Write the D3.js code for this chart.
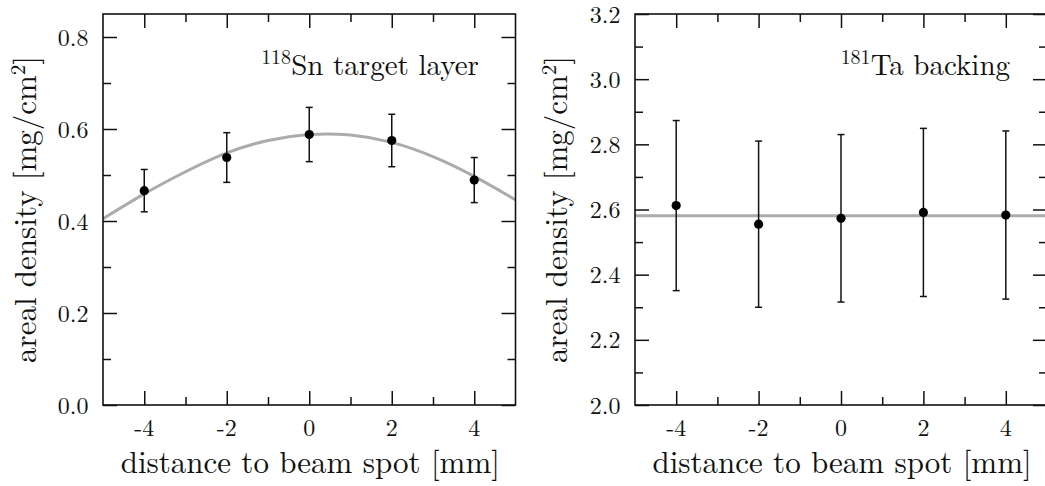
<!DOCTYPE html>
<html><head><meta charset="utf-8">
<script src="https://cdn.jsdelivr.net/npm/d3@7"></script>
<style>
html,body{margin:0;padding:0;background:#fff;}
svg{display:block;}
</style></head>
<body>
<svg id="c" width="1045" height="486"></svg>
<script>
// ---------- data ----------
const snX = [-4, -2, 0, 2, 4];
const snY = [0.466, 0.538, 0.588, 0.575, 0.489];
const snErr = [0.046, 0.054, 0.059, 0.057, 0.049];
// fitted curve
const snFitX = [-5, -4, -3, -2, -1, 0, 1, 2, 3, 4, 5];
const snFitY = [0.405, 0.459, 0.507, 0.548, 0.575, 0.588, 0.587, 0.571, 0.540, 0.497, 0.446];

const taX = [-4, -2, 0, 2, 4];
const taY = [2.612, 2.555, 2.573, 2.591, 2.583];
const taErr = [0.261, 0.255, 0.257, 0.258, 0.258];
const taFitX = [-5, 5];
const taFitY = [2.581, 2.581];

const xTicks = [-4, -2, 0, 2, 4];
const xTickLabels = ["-4", "-2", "0", "2", "4"];
const xMinor = [-3, -1, 1, 3];
const snYTicks = [0.0, 0.2, 0.4, 0.6, 0.8];
const snYMinor = [0.1, 0.3, 0.5, 0.7];
const taYTicks = [2.0, 2.2, 2.4, 2.6, 2.8, 3.0, 3.2];
const taYMinor = [2.1, 2.3, 2.5, 2.7, 2.9, 3.1];

const FONT = "'Latin Modern Roman', 'Liberation Serif', serif";
const svg = d3.select("#c").attr("font-family", FONT);

function panel(o) {
  const g = svg.append("g");
  const x = d3.scaleLinear().domain([-5, 5]).range([o.left, o.right]);
  const y = d3.scaleLinear().domain(o.ydom).range([405, 14]);
  const H = 405 - 14, W = o.right - o.left;
  const MAJ = 14, MIN = 8;

  const line = d3.line().x((d) => x(d[0])).y((d) => y(d[1])).curve(d3.curveNatural);
  const clipId = "clip" + o.id;
  g.append("clipPath").attr("id", clipId).append("rect")
    .attr("x", o.left).attr("y", 14).attr("width", W).attr("height", H);
  g.append("path").datum(o.fitX.map((v, i) => [v, o.fitY[i]]))
    .attr("d", line).attr("fill", "none").attr("stroke", "#ababab")
    .attr("stroke-width", 3).attr("clip-path", `url(#${clipId})`);

  const cap = 3.5;
  const eb = g.append("g").attr("stroke", "#111").attr("stroke-width", 1.5);
  o.px.forEach((v, i) => {
    const cx = x(v), y1 = y(o.py[i] + o.pe[i]), y0 = y(o.py[i] - o.pe[i]);
    eb.append("line").attr("x1", cx).attr("x2", cx).attr("y1", y1).attr("y2", y0);
    eb.append("line").attr("x1", cx - cap).attr("x2", cx + cap).attr("y1", y1).attr("y2", y1);
    eb.append("line").attr("x1", cx - cap).attr("x2", cx + cap).attr("y1", y0).attr("y2", y0);
  });
  g.selectAll("circle.pt").data(o.px).join("circle")
    .attr("cx", (d) => x(d)).attr("cy", (d, i) => y(o.py[i])).attr("r", 4.6).attr("fill", "#000");

  const mk = (axisFn, scale, vals, size, tr) => {
    const a = g.append("g").attr("transform", tr)
      .call(axisFn(scale).tickValues(vals).tickSize(size).tickFormat(""));
    a.select(".domain").remove();
    a.selectAll("line").attr("stroke", "#111").attr("stroke-width", 1.5);
  };
  mk(d3.axisBottom, x, xTicks, -MAJ, `translate(0,405)`);
  mk(d3.axisBottom, x, xMinor, -MIN, `translate(0,405)`);
  mk(d3.axisTop, x, xTicks, -MAJ, `translate(0,14)`);
  mk(d3.axisTop, x, xMinor, -MIN, `translate(0,14)`);
  mk(d3.axisLeft, y, o.yt, -MAJ, `translate(${o.left},0)`);
  mk(d3.axisLeft, y, o.ym, -MIN, `translate(${o.left},0)`);
  mk(d3.axisRight, y, o.yt, -MAJ, `translate(${o.right},0)`);
  mk(d3.axisRight, y, o.ym, -MIN, `translate(${o.right},0)`);

  g.append("rect").attr("x", o.left).attr("y", 14).attr("width", W).attr("height", H)
    .attr("fill", "none").attr("stroke", "#111").attr("stroke-width", 1.6);

  const T = (sel) => sel.attr("font-family", FONT).attr("fill", "#111");
  T(g.selectAll("text.xt").data(xTicks).join("text").attr("class", "xt")
    .attr("x", (d) => x(d)).attr("y", 436).attr("text-anchor", "middle")
    .attr("font-size", 24).text((d, i) => xTickLabels[i]));
  T(g.selectAll("text.yt").data(o.yt).join("text").attr("class", "yt")
    .attr("x", o.left - 14.5).attr("y", (d) => y(d) + 8.5).attr("text-anchor", "end")
    .attr("font-size", 24).text((d) => d.toFixed(1)));

  T(g.append("text").attr("x", (o.left + o.right) / 2 + 1).attr("y", 473)
    .attr("text-anchor", "middle").attr("font-size", 31)
    .text("distance to beam spot [mm]"));
  const yl = T(g.append("text")
    .attr("transform", `translate(${o.ylx},${(57 + 362) / 2}) rotate(-90)`)
    .attr("text-anchor", "middle").attr("font-size", 31));
  yl.append("tspan").text("areal density [mg/cm");
  yl.append("tspan").attr("dy", -11).attr("font-size", 21).text("2");
  yl.append("tspan").attr("dy", 11).text("]");

  const an = T(g.append("text").attr("x", o.annX).attr("y", 75)
    .attr("text-anchor", "end").attr("font-size", 29));
  an.append("tspan").attr("dy", -11).attr("font-size", 20).text(o.sup);
  an.append("tspan").attr("dy", 11).text(o.ann);
}

panel({id: 1, left: 103, right: 515.5, ydom: [0, 0.85], yt: snYTicks, ym: snYMinor,
  px: snX, py: snY, pe: snErr, fitX: snFitX, fitY: snFitY,
  ylx: 36, annX: 479, sup: "118", ann: "Sn target layer"});
panel({id: 2, left: 635, right: 1047, ydom: [2.0, 3.2], yt: taYTicks, ym: taYMinor,
  px: taX, py: taY, pe: taErr, fitX: taFitX, fitY: taFitY,
  ylx: 567, annX: 1010, sup: "181", ann: "Ta backing"});
</script>
</body></html>
